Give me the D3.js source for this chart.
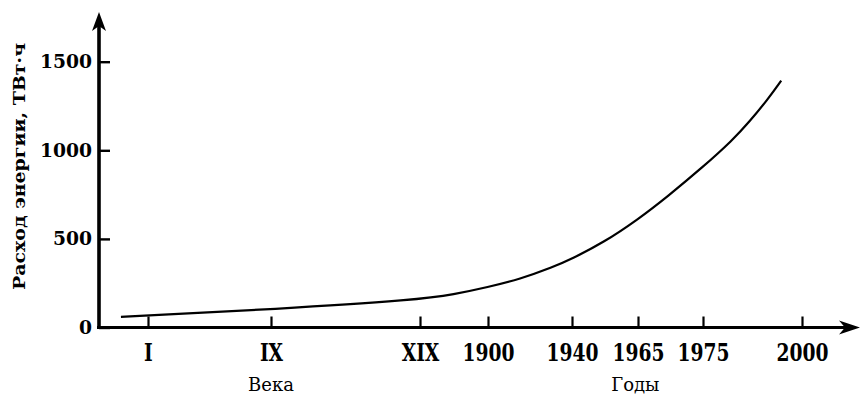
<!DOCTYPE html>
<html><head><meta charset="utf-8">
<script src="https://cdn.jsdelivr.net/npm/d3@7"></script>
<style>body{margin:0;background:#fff} svg{display:block;background:#fff}</style>
</head><body><svg id="c" width="860" height="395"></svg>
<script>
// ---- data ----
const tickLabels = ["I", "IX", "XIX", "1900", "1940", "1965", "1975", "2000"];
const yTickValues = [0, 500, 1000, 1500];
const curvePos    = [-0.22, 0, 1, 2, 2.49, 3, 3.38, 3.77, 4, 4.47, 5, 5.45, 6, 6.30, 6.47, 6.65, 6.79];
const curveValues = [60, 68, 102, 157, 186, 228, 273, 340, 388, 478, 610, 738, 906, 1058, 1162, 1284, 1393];
const yTitle = "Расход энергии, ТВт·ч";
const groupLabels = ["Века", "Годы"];

// ---- layout ----
const tickPx = [148, 271, 420, 488, 572, 638, 703, 802];
const groupAt = [1, 4.96];
const y0 = 327.5, y1500 = 61.7, axisX = 99;
const serifB = "'DejaVu Serif', serif";

const svg = d3.select("#c");
const x = d3.scaleLinear().domain(d3.range(tickLabels.length)).range(tickPx);
const y = d3.scaleLinear().domain([0, 1500]).range([y0, y1500]);

// y axis
const ya = svg.append("g").attr("transform", `translate(${axisX},0)`)
  .call(d3.axisLeft(y).tickValues(yTickValues).tickSize(-11).tickPadding(7).tickFormat(d3.format("d")));
ya.select(".domain").remove();
ya.selectAll(".tick line").attr("stroke", "#000").attr("stroke-width", 2.4);
ya.selectAll(".tick text").attr("fill", "#000")
  .style("font-family", serifB).style("font-weight", "bold").style("font-size", "18.7px");

// x axis
const xa = svg.append("g").attr("transform", `translate(0,${y0})`)
  .call(d3.axisBottom(x).tickValues(d3.range(tickLabels.length)).tickSize(-11).tickFormat(i => tickLabels[i]));
xa.select(".domain").remove();
xa.selectAll(".tick line").attr("stroke", "#000").attr("stroke-width", 2.2);
xa.selectAll(".tick text").attr("fill", "#000").attr("y", null).attr("dy", null)
  .attr("transform", "translate(0,33.5) scale(1,1.25)")
  .style("font-family", serifB).style("font-weight", "bold").style("font-size", "18.7px");

// axis lines with arrows
svg.append("line").attr("x1", 97).attr("x2", 848).attr("y1", y0).attr("y2", y0)
  .attr("stroke", "#000").attr("stroke-width", 3);
svg.append("path").attr("d", `M860,${y0} L839,${y0-7} L845,${y0} L839,${y0+7} Z`).attr("fill", "#000");
svg.append("line").attr("x1", axisX).attr("x2", axisX).attr("y1", y0 + 1.5).attr("y2", 24)
  .attr("stroke", "#000").attr("stroke-width", 3.6);
svg.append("path").attr("d", `M${axisX},12 L${axisX-7},31 L${axisX},26 L${axisX+7},31 Z`).attr("fill", "#000");

// curve
const pts = curvePos.map((p, i) => ({p, v: curveValues[i]}));
svg.append("path").datum(pts)
  .attr("fill", "none").attr("stroke", "#000").attr("stroke-width", 2.2)
  .attr("d", d3.line().x(d => x(d.p)).y(d => y(d.v)).curve(d3.curveBasis));

// group labels
groupLabels.forEach((t, i) => {
  svg.append("text").attr("x", x(groupAt[i])).attr("y", 391).attr("text-anchor", "middle")
    .attr("fill", "#000").style("font-family", serifB).style("font-size", "18px").text(t);
});

// y title
svg.append("text").attr("transform", "translate(25,166.5) rotate(-90)")
  .attr("text-anchor", "middle").attr("fill", "#000")
  .style("font-family", serifB).style("font-weight", "bold").style("font-size", "17px")
  .attr("textLength", 247).attr("lengthAdjust", "spacingAndGlyphs")
  .text(yTitle);
</script></body></html>
